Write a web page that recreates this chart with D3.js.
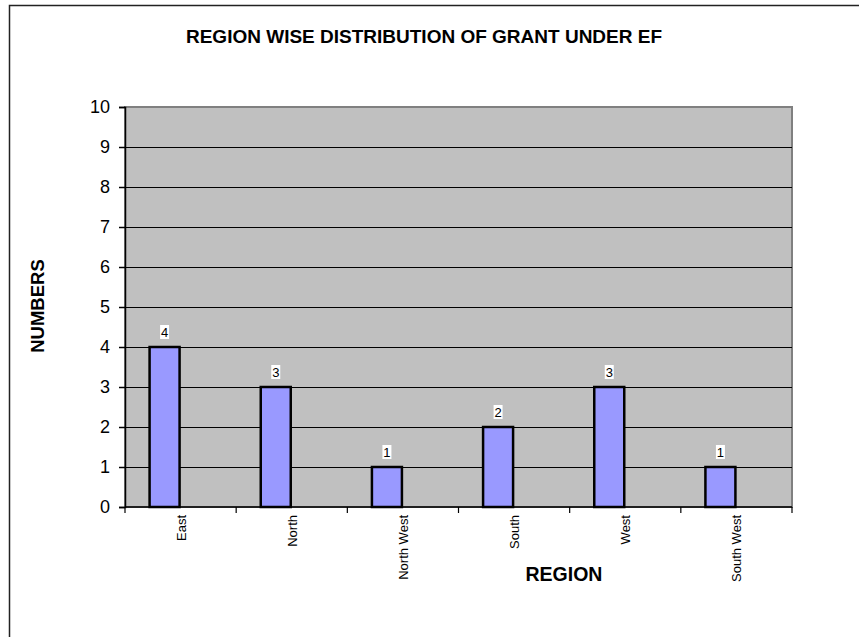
<!DOCTYPE html>
<html>
<head>
<meta charset="utf-8">
<script src="https://cdn.jsdelivr.net/npm/d3@7"></script>
<style>
  body { margin: 0; background: #fff; }
  text { font-family: Arial, "Liberation Sans", sans-serif; }
</style>
</head>
<body>
<div class="container"></div>
<script>
'use strict';

// Chart data
const regions = ["East", "North", "North West", "South", "West", "South West"];
const grants = [4, 3, 1, 2, 3, 1];
const yTicks = [0, 1, 2, 3, 4, 5, 6, 7, 8, 9, 10];

const titleText = "REGION WISE DISTRIBUTION OF GRANT UNDER EF";
const xTitle = "REGION";
const yTitle = "NUMBERS";

const width = 859;
const height = 637;

const svg = d3.select("div.container").append("svg")
    .attr("width", width)
    .attr("height", height);

// outer frame (only top and left edges show in the picture)
svg.append("path")
    .attr("d", "M9.5,637 V5.5 H859")
    .attr("fill", "none")
    .attr("stroke", "#222")
    .attr("stroke-width", 1.5);

// plot area
const plot = { left: 125, top: 107, right: 792, bottom: 507 };

const x = d3.scaleBand()
    .domain(regions)
    .range([plot.left, plot.right]);

const y = d3.scaleLinear()
    .domain([0, 10])
    .range([plot.bottom, plot.top]);

svg.append("rect")
    .attr("x", plot.left)
    .attr("y", plot.top)
    .attr("width", plot.right - plot.left)
    .attr("height", plot.bottom - plot.top)
    .attr("fill", "#c0c0c0")
    .attr("stroke", "#808080")
    .attr("stroke-width", 2);

// horizontal gridlines
svg.append("g")
    .selectAll("line")
    .data(yTicks.filter(d => d > 0 && d < 10))
    .enter()
    .append("line")
    .attr("x1", plot.left)
    .attr("x2", plot.right)
    .attr("y1", d => Math.round(y(d)) + 0.5)
    .attr("y2", d => Math.round(y(d)) + 0.5)
    .attr("stroke", "#000")
    .attr("stroke-width", 1);

// y axis
const yAxis = svg.append("g")
    .attr("transform", "translate(" + plot.left + ",0)")
    .call(d3.axisLeft(y).tickValues(yTicks).tickSize(6).tickPadding(9).tickFormat(d3.format("d")));
yAxis.selectAll("text")
    .attr("font-size", "18px")
    .attr("font-family", "Arial, 'Liberation Sans', sans-serif")
    .attr("fill", "#000");
yAxis.selectAll("line, path").attr("stroke", "#000").attr("stroke-width", 1.5);

// x axis: ticks at category boundaries, labels at category centres
const xAxisG = svg.append("g");
xAxisG.append("line")
    .attr("x1", plot.left).attr("x2", plot.right)
    .attr("y1", plot.bottom).attr("y2", plot.bottom)
    .attr("stroke", "#000").attr("stroke-width", 1.5);
xAxisG.selectAll("line.tick")
    .data(regions.map(r => x(r)).concat([plot.right]))
    .enter()
    .append("line")
    .attr("class", "tick")
    .attr("x1", d => d).attr("x2", d => d)
    .attr("y1", plot.bottom).attr("y2", plot.bottom + 6)
    .attr("stroke", "#000").attr("stroke-width", 1.2);
xAxisG.selectAll("text")
    .data(regions)
    .enter()
    .append("text")
    .attr("transform", d => "translate(" + (x(d) + x.bandwidth() / 2 + 5) + "," + (plot.bottom + 8) + ") rotate(-90)")
    .attr("text-anchor", "end")
    .attr("font-size", "13px")
    .text(d => d);

// bars: they sit in the left half of each slot (empty second series in the original)
const barW = 32;
svg.append("g")
    .selectAll("rect")
    .data(regions)
    .enter()
    .append("rect")
    .attr("x", (d) => x(d) + x.bandwidth() / 2 - barW + 1)
    .attr("y", (d, i) => y(grants[i]))
    .attr("width", barW - 2)
    .attr("height", (d, i) => y(0) - y(grants[i]))
    .attr("fill", "#9999ff")
    .attr("stroke", "#000")
    .attr("stroke-width", 2.5);

// value labels with white backing
const labels = svg.append("g")
    .selectAll("g")
    .data(regions)
    .enter()
    .append("g")
    .attr("transform", (d, i) => "translate(" + (x(d) + x.bandwidth() / 2 - barW / 2) + "," + (y(grants[i]) - 15) + ")");
labels.append("rect")
    .attr("x", -4.5)
    .attr("y", -7)
    .attr("width", 9)
    .attr("height", 14)
    .attr("fill", "#fff");
labels.append("text")
    .attr("text-anchor", "middle")
    .attr("dy", "0.36em")
    .attr("font-size", "13px")
    .text((d, i) => grants[i]);

// titles
svg.append("text")
    .attr("x", 424)
    .attr("y", 43)
    .attr("text-anchor", "middle")
    .attr("font-size", "19px")
    .attr("font-weight", "bold")
    .text(titleText);

svg.append("text")
    .attr("x", 564)
    .attr("y", 581)
    .attr("text-anchor", "middle")
    .attr("font-size", "19.5px")
    .attr("font-weight", "bold")
    .text(xTitle);

svg.append("text")
    .attr("transform", "translate(44,306) rotate(-90)")
    .attr("text-anchor", "middle")
    .attr("font-size", "18.5px")
    .attr("font-weight", "bold")
    .text(yTitle);
</script>
</body>
</html>
